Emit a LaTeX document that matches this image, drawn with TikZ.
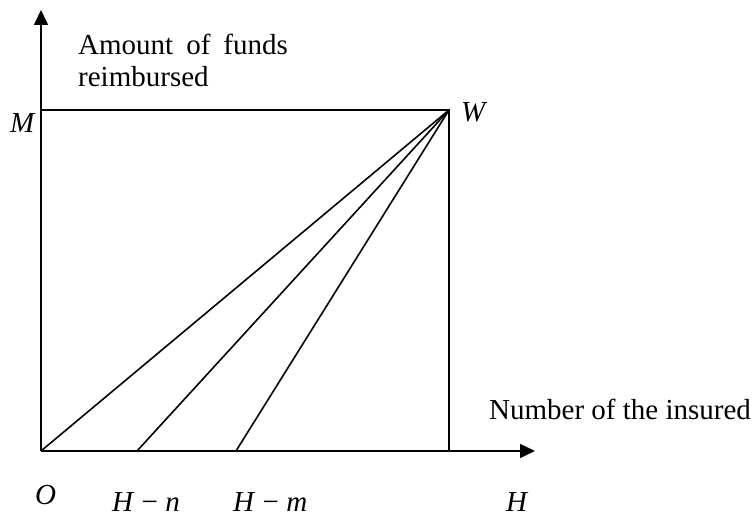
\documentclass[tikz,border=0pt]{standalone}
\usepackage{fontspec}
\setmainfont{Liberation Serif}
\usetikzlibrary{arrows.meta}
\begin{document}
\begin{tikzpicture}[x=1pt,y=1pt,
  axis/.style={line width=1.6pt,-{Triangle[length=15pt,width=14pt]}},
  edge/.style={line width=1.6pt},
  lbl/.style={inner sep=0pt,anchor=base west,font=\fontsize{29}{34}\selectfont}]
\useasboundingbox (0,0) rectangle (755,518);
\coordinate (O) at (41,67);
\coordinate (ytip) at (41,508);
\coordinate (xtip) at (535,67);
\coordinate (Mc) at (41,408);
\coordinate (W) at (449,408);
\coordinate (Hc) at (449,67);
\coordinate (Hn) at (137,67);
\coordinate (Hm) at (236,67);
\draw[axis] (O) -- (ytip);
\draw[axis] (O) -- (xtip);
\draw[edge] (Mc) -- (W) -- (Hc);
\draw[edge] (O) -- (W);
\draw[edge] (Hn) -- (W);
\draw[edge] (Hm) -- (W);
\node[lbl] (t1) at (78,463) {Amount\hspace{0.45em}of\hspace{0.45em}funds};
\node[lbl] (t2) at (78,431) {reimbursed};
\node[lbl] (t3) at (489,98) {Number of the insured};
\node[lbl] (lM) at (10,385) {\itshape M};
\node[lbl] (lW) at (461,396) {\itshape W};
\node[lbl] (lO) at (35,13) {\itshape O};
\node[lbl] (lHn) at (112,6) {\textit{H} − \textit{n}};
\node[lbl] (lHm) at (233,6) {\textit{H} − \textit{m}};
\node[lbl] (lH) at (506,6) {\itshape H};
\end{tikzpicture}
\end{document}
